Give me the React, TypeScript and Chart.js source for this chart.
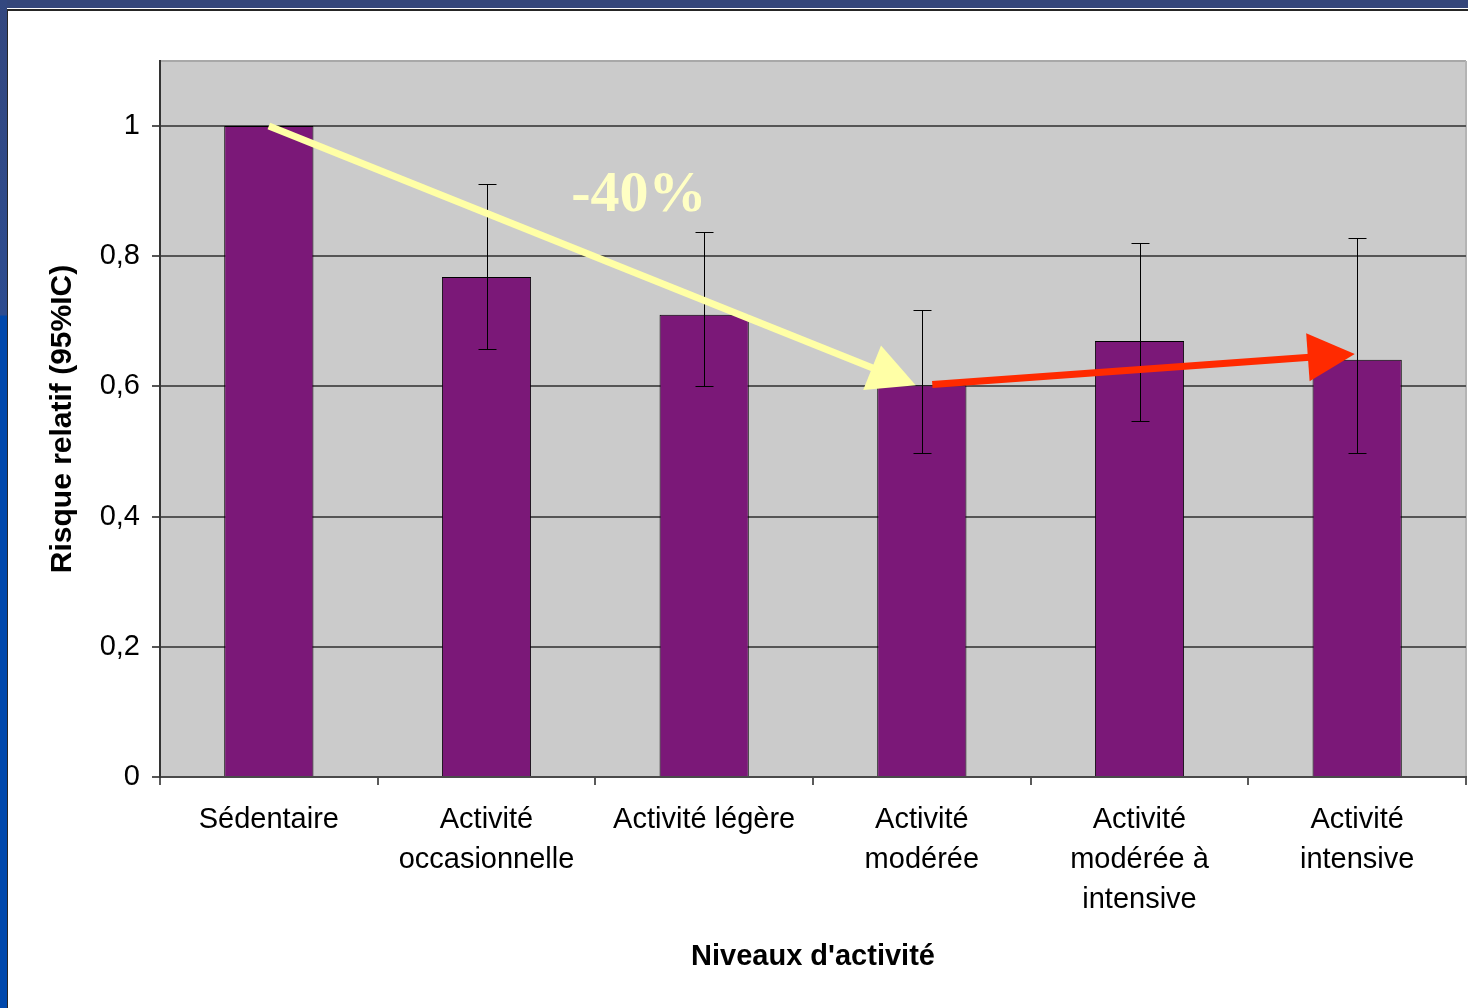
import React, { useEffect, useRef } from 'react';
import { Chart, registerables } from 'chart.js';

Chart.register(...registerables);

// ---------- data ----------
const categories: string[][] = [
  ['Sédentaire'],
  ['Activité', 'occasionnelle'],
  ['Activité légère'],
  ['Activité', 'modérée'],
  ['Activité', 'modérée à', 'intensive'],
  ['Activité', 'intensive'],
];
const relativeRisk: number[] = [1.0, 0.768, 0.71, 0.602, 0.67, 0.641];
const ciLow: (number | null)[] = [null, 0.657, 0.6, 0.498, 0.547, 0.498];
const ciHigh: (number | null)[] = [null, 0.911, 0.837, 0.717, 0.82, 0.828];
const yTicks: number[] = [0, 0.2, 0.4, 0.6, 0.8, 1];
const yMin = 0;
const yMax = 1.1;

// annotation arrows: [category index (fractional), value]
const arrowFrom: [number, number][] = [[0, 1.0], [3.048, 0.603]];
const arrowTo: [number, number][] = [[2.972, 0.602], [4.989, 0.65]];
const arrowColors: string[] = ['#ffffa6', '#ff2a00'];
const annotationText = '-40%';
const annotationAt: [number, number] = [1.7, 0.869];

const xTitle = "Niveaux d'activité";
const yTitle = 'Risque relatif (95%IC)';

const SANS = '"Liberation Sans", Arial, sans-serif';

function catPixel(chart: any, idx: number): number {
  const xs = chart.scales.x;
  const p0 = xs.getPixelForValue(0);
  const p1 = xs.getPixelForValue(1);
  return p0 + (p1 - p0) * idx;
}

const plotPlugin = {
  id: 'plotDecor',
  beforeDraw(chart: any) {
    const { ctx, chartArea: a } = chart;
    ctx.save();
    ctx.fillStyle = '#cbcbcb';
    ctx.fillRect(a.left, a.top, a.right - a.left, a.bottom - a.top);
    ctx.strokeStyle = '#a8a8a8';
    ctx.lineWidth = 2;
    ctx.beginPath();
    ctx.moveTo(a.left, a.top);
    ctx.lineTo(a.right, a.top);
    ctx.stroke();
    ctx.strokeStyle = '#b4b4b4';
    ctx.beginPath();
    ctx.moveTo(a.right, a.top);
    ctx.lineTo(a.right, a.bottom);
    ctx.stroke();
    ctx.restore();
  },
  afterDatasetsDraw(chart: any) {
    const { ctx } = chart;
    const ys = chart.scales.y;
    ctx.save();
    // error bars
    ctx.strokeStyle = '#000';
    ctx.lineWidth = 1;
    for (let i = 0; i < relativeRisk.length; i++) {
      const lo = ciLow[i];
      const hi = ciHigh[i];
      if (lo == null || hi == null) continue;
      const x = Math.round(chart.scales.x.getPixelForValue(i)) + 0.5;
      const yt = Math.round(ys.getPixelForValue(hi)) + 0.5;
      const yb = Math.round(ys.getPixelForValue(lo)) + 0.5;
      ctx.beginPath();
      ctx.moveTo(x, yt);
      ctx.lineTo(x, yb);
      ctx.moveTo(x - 9, yt);
      ctx.lineTo(x + 9, yt);
      ctx.moveTo(x - 9, yb);
      ctx.lineTo(x + 9, yb);
      ctx.stroke();
    }
    // arrows
    for (let k = 0; k < arrowFrom.length; k++) {
      const x0 = catPixel(chart, arrowFrom[k][0]);
      const y0 = ys.getPixelForValue(arrowFrom[k][1]);
      const x1 = catPixel(chart, arrowTo[k][0]);
      const y1 = ys.getPixelForValue(arrowTo[k][1]);
      const dx = x1 - x0;
      const dy = y1 - y0;
      const len = Math.hypot(dx, dy);
      const ux = dx / len;
      const uy = dy / len;
      const headLen = 47;
      const halfW = 24;
      const bx = x1 - ux * headLen;
      const by = y1 - uy * headLen;
      ctx.strokeStyle = arrowColors[k];
      ctx.fillStyle = arrowColors[k];
      ctx.lineWidth = 7;
      ctx.lineCap = 'butt';
      ctx.beginPath();
      ctx.moveTo(x0, y0);
      ctx.lineTo(bx + ux * 2, by + uy * 2);
      ctx.stroke();
      ctx.beginPath();
      ctx.moveTo(x1, y1);
      ctx.lineTo(bx - uy * halfW, by + ux * halfW);
      ctx.lineTo(bx + uy * halfW, by - ux * halfW);
      ctx.closePath();
      ctx.fill();
    }
    // annotation text
    ctx.fillStyle = '#ffffc4';
    ctx.font = 'bold 58px "Liberation Serif", "Times New Roman", serif';
    ctx.textAlign = 'center';
    ctx.textBaseline = 'alphabetic';
    ctx.fillText(annotationText, catPixel(chart, annotationAt[0]), ys.getPixelForValue(annotationAt[1]));
    ctx.restore();
  },
};

export default function App() {
  const ref = useRef<HTMLCanvasElement | null>(null);

  useEffect(() => {
    if (!ref.current) return;
    const chart = new Chart(ref.current, {
      type: 'bar',
      data: {
        labels: categories as any,
        datasets: [
          {
            data: relativeRisk,
            backgroundColor: '#7b1878',
            borderColor: '#000000',
            borderWidth: 1,
            barPercentage: 0.41,
            categoryPercentage: 1,
          },
        ],
      },
      options: {
        responsive: false,
        animation: false,
        layout: { padding: { top: 61, right: 2, left: 0, bottom: 0 } },
        plugins: { legend: { display: false }, tooltip: { enabled: false } },
        scales: {
          x: {
            grid: {
              display: true,
              drawOnChartArea: false,
              offset: true,
              tickLength: 8,
              color: '#5a5a5a',
              lineWidth: 2,
            },
            border: { display: true, color: '#4a4a4a', width: 2 },
            ticks: {
              color: '#000',
              font: { family: SANS, size: 29, lineHeight: 40 / 29 },
              padding: 15,
              maxRotation: 0,
              minRotation: 0,
              autoSkip: false,
            },
            title: {
              display: true,
              text: xTitle,
              color: '#000',
              font: { family: SANS, size: 29, weight: 'bold' },
              padding: { top: 0, bottom: 34 },
            },
            afterFit: (s: any) => {
              s.height = 231;
            },
          },
          y: {
            min: yMin,
            max: yMax,
            afterBuildTicks: (s: any) => {
              s.ticks = yTicks.map((v) => ({ value: v }));
            },
            grid: { color: '#555555', lineWidth: 2, tickLength: 8 },
            border: { display: true, color: '#333333', width: 2 },
            ticks: {
              color: '#000',
              font: { family: SANS, size: 29 },
              padding: 12,
              callback: (v: any) => String(Math.round(Number(v) * 10) / 10).replace('.', ','),
            },
            title: {
              display: true,
              text: yTitle,
              color: '#000',
              font: { family: SANS, size: 30, weight: 'bold' },
              padding: { top: 45, bottom: 0 },
            },
            afterFit: (s: any) => {
              s.width = 160;
            },
          },
        },
      } as any,
      plugins: [plotPlugin],
    });
    return () => chart.destroy();
  }, []);

  return (
    <div
      style={{
        position: 'fixed',
        left: 0,
        top: 0,
        width: 1468,
        height: 1008,
        overflow: 'hidden',
        background: '#ffffff',
      }}
    >
      <div style={{ position: 'absolute', left: 0, top: 0, width: 1468, height: 8, background: '#34467a' }} />
      <div
        style={{
          position: 'absolute',
          left: 0,
          top: 0,
          width: 7,
          height: 1008,
          background: 'linear-gradient(to bottom, #33477f 0px, #2d4c90 315px, #0048ac 316px, #0048ac 1008px)',
        }}
      />
      <div
        style={{
          position: 'absolute',
          left: 7,
          top: 9,
          width: 1461,
          height: 999,
          boxSizing: 'border-box',
          borderTop: '2px solid #262626',
          borderLeft: '1px solid #262626',
          background: '#ffffff',
        }}
      />
      <canvas
        ref={ref}
        width={1468}
        height={1008}
        style={{ position: 'absolute', left: 0, top: 0, width: 1468, height: 1008 }}
      />
    </div>
  );
}
